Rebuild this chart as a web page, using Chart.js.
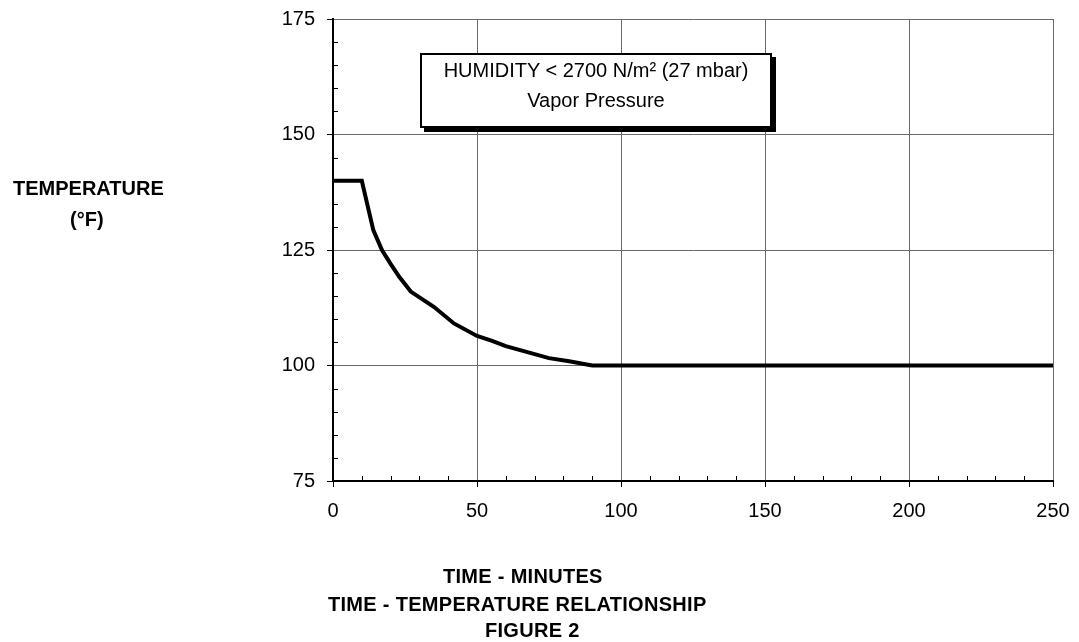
<!DOCTYPE html>
<html>
<head>
<meta charset="utf-8">
<script src="https://cdn.jsdelivr.net/npm/chart.js@4/dist/chart.umd.min.js"></script>
<style>
  html, body { margin: 0; padding: 0; background: #fff; }
  #wrap { position: relative; width: 1079px; height: 642px; font-family: "Liberation Sans", Arial, sans-serif; color: #000; }
  #grafico { position: absolute; left: 0; top: 0; }
  .lbl { position: absolute; font-weight: bold; font-size: 20px; line-height: 23px; white-space: nowrap; }
  .pie { letter-spacing: 0.3px; }
  #nota { position: absolute; left: 420px; top: 53px; width: 348px; height: 71px; border: 2px solid #000; background: #fff;
          box-shadow: 4px 4px 0 #000; text-align: center; font-size: 20px; line-height: 30px; }
</style>
</head>
<body>
<div id="wrap">
  <canvas id="grafico" width="1079" height="642"></canvas>
  <div class="lbl" style="left:13px; top:177px;">TEMPERATURE</div>
  <div class="lbl" style="left:70px; top:208px;">(°F)</div>
  <div class="lbl pie" style="left:443px; top:565px;">TIME - MINUTES</div>
  <div class="lbl pie" style="left:328px; top:593px;">TIME - TEMPERATURE RELATIONSHIP</div>
  <div class="lbl pie" style="left:485px; top:619px;">FIGURE 2</div>
  <div id="nota">HUMIDITY &lt; 2700 N/m² (27 mbar)<br>Vapor Pressure</div>
</div>
<script>
// curva tiempo - temperatura
const tiempos = [0, 10, 14, 17, 20, 23, 27, 35, 42, 50, 55, 60, 75, 82, 90, 250];
const temperaturas = [140, 140, 129.3, 125, 122, 119.2, 116, 112.7, 109.1, 106.4, 105.4, 104.2, 101.6, 100.9, 100, 100];
const ejeX = { min: 0, max: 250, mayor: 50, menor: 10 };
const ejeY = { min: 75, max: 175, mayor: 25, menor: 5 };

const puntos = tiempos.map((t, i) => ({ x: t, y: temperaturas[i] }));

function esMayor(valor, paso) { return Math.abs(valor % paso) < 1e-6; }

// marcas menores hacia dentro del area
const marcasMenores = {
    id: 'marcasMenores',
    afterDraw(c) {
        const ctx = c.ctx, a = c.chartArea;
        const sx = c.scales.x, sy = c.scales.y;
        ctx.save();
        ctx.strokeStyle = '#000';
        ctx.lineWidth = 1;
        ctx.beginPath();
        sx.ticks.forEach(t => {
            if (esMayor(t.value, ejeX.mayor)) return;
            const px = Math.round(sx.getPixelForValue(t.value)) + 0.5;
            ctx.moveTo(px, a.bottom); ctx.lineTo(px, a.bottom - 5);
        });
        sy.ticks.forEach(t => {
            if (esMayor(t.value, ejeY.mayor)) return;
            const py = Math.round(sy.getPixelForValue(t.value)) + 0.5;
            ctx.moveTo(a.left, py); ctx.lineTo(a.left + 5, py);
        });
        ctx.stroke();
        ctx.restore();
    }
};

new Chart(document.getElementById('grafico'), {
    type: 'line',
    data: {
        datasets: [{
            data: puntos,
            borderColor: '#000',
            borderWidth: 4,
            pointRadius: 0,
            tension: 0,
            fill: false
        }]
    },
    options: {
        responsive: false,
        animation: false,
        layout: { padding: { left: 0, right: 26, top: 19, bottom: 0 } },
        plugins: { legend: { display: false }, tooltip: { enabled: false } },
        scales: {
            x: {
                type: 'linear', min: ejeX.min, max: ejeX.max,
                afterFit: s => { s.height = 161; s.paddingLeft = 0; s.paddingRight = 0; },
                ticks: {
                    stepSize: ejeX.menor, color: '#000', padding: 12, maxRotation: 0, autoSkip: false,
                    font: { family: 'Liberation Sans', size: 20 },
                    callback: v => esMayor(v, ejeX.mayor) ? v : ''
                },
                grid: {
                    color: c => esMayor(c.tick.value, ejeX.mayor) ? '#6a6a6a' : 'rgba(0,0,0,0)',
                    tickColor: c => esMayor(c.tick.value, ejeX.mayor) ? '#000' : 'rgba(0,0,0,0)',
                    tickLength: 6, lineWidth: 1
                },
                border: { color: '#000', width: 2 }
            },
            y: {
                type: 'linear', min: ejeY.min, max: ejeY.max,
                afterFit: s => { s.width = 333; s.paddingTop = 0; s.paddingBottom = 0; },
                ticks: {
                    stepSize: ejeY.menor, color: '#000', padding: 12, autoSkip: false,
                    font: { family: 'Liberation Sans', size: 20 },
                    callback: v => esMayor(v, ejeY.mayor) ? v : ''
                },
                grid: {
                    color: c => esMayor(c.tick.value, ejeY.mayor) ? '#6a6a6a' : 'rgba(0,0,0,0)',
                    tickColor: c => esMayor(c.tick.value, ejeY.mayor) ? '#000' : 'rgba(0,0,0,0)',
                    tickLength: 6, lineWidth: 1
                },
                border: { color: '#000', width: 2 }
            }
        }
    },
    plugins: [marcasMenores]
});
</script>
</body>
</html>
